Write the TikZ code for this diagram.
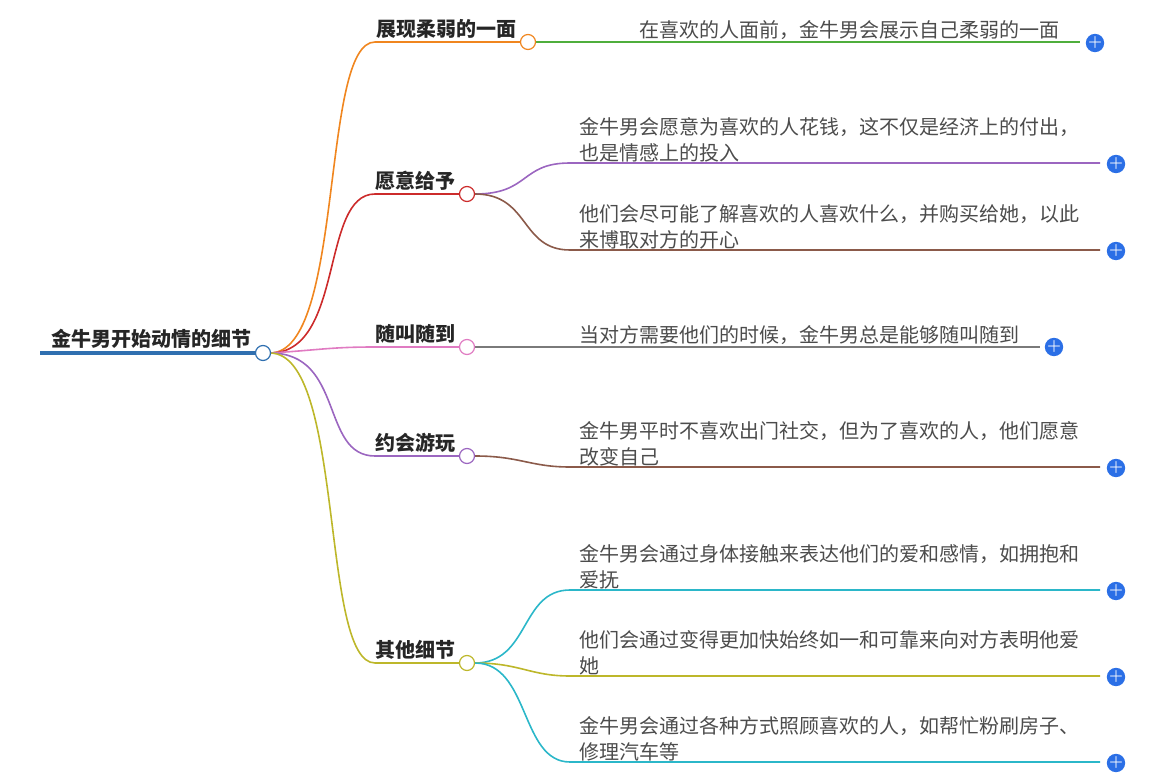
\documentclass[tikz,border=0pt]{standalone}
\usepackage{fontspec}
\usetikzlibrary{positioning, calc}
\newfontfamily\cjk{Noto Sans CJK SC}
\definecolor{cOrange}{HTML}{F0861F}
\definecolor{cGreen}{HTML}{4FAE3C}
\definecolor{cRed}{HTML}{CC2B2B}
\definecolor{cPurple}{HTML}{9B66C0}
\definecolor{cBrown}{HTML}{8B5A4A}
\definecolor{cPink}{HTML}{E07BC2}
\definecolor{cGray}{HTML}{7A7A7A}
\definecolor{cOlive}{HTML}{BDB72A}
\definecolor{cCyan}{HTML}{2BB7C9}
\definecolor{cBlue}{HTML}{2F6FB0}
\definecolor{cPlus}{HTML}{2B6FE6}
\tikzset{
  hub/.style={circle, draw, line width=1.2pt, fill=white, inner sep=0pt, minimum size=15pt},
  topic/.style={font=\cjk\bfseries\fontsize{20}{22}\selectfont, anchor=south east, inner sep=1pt, text=black!85},
  leaf/.style={font=\cjk\fontsize{20}{26}\selectfont, anchor=south west, align=left, inner sep=1pt, text=black!70},
  plus/.style={circle, fill=cPlus, text=white, inner sep=0pt, minimum size=17pt, font=\bfseries\fontsize{16}{16}\selectfont},
  edge/.style={line width=1.6pt},
}
\begin{document}
\begin{tikzpicture}[x=1pt, y=-1pt]
  \useasboundingbox (0,0) rectangle (1176,778);
  % root
  \draw[cBlue, line width=4pt] (40,353) -- (255,353);
  \node[topic] (root) at (253,350) {金牛男开始动情的细节};
  % main branches
  \draw[edge, cOrange] (270,353) .. controls (345,353) and (320,42) .. (375,42) -- (520,42);
  \draw[edge, cRed] (270,353) .. controls (345,353) and (320,194) .. (375,194) -- (459,194);
  \draw[edge, cPink] (270,353) .. controls (320,350) and (330,347) .. (375,347) -- (459,347);
  \draw[edge, cPurple] (270,353) .. controls (345,353) and (320,456) .. (375,456) -- (459,456);
  \draw[edge, cOlive] (270,353) .. controls (345,353) and (320,663) .. (375,663) -- (459,663);
  % leaf connectors
  \draw[edge, cGreen] (536,42) -- (1080,42);
  \draw[edge, cPurple] (475,194) .. controls (530,194) and (520,163) .. (570,163) -- (1100,163);
  \draw[edge, cBrown] (475,194) .. controls (530,194) and (520,250) .. (570,250) -- (1100,250);
  \draw[edge, cGray] (475,347) -- (1040,347);
  \draw[edge, cBrown] (475,456) .. controls (520,456) and (530,467) .. (570,467) -- (1100,467);
  \draw[edge, cCyan] (475,663) .. controls (530,663) and (520,590) .. (570,590) -- (1100,590);
  \draw[edge, cOlive] (475,663) .. controls (520,663) and (530,676) .. (570,676) -- (1100,676);
  \draw[edge, cCyan] (475,663) .. controls (530,663) and (520,762) .. (570,762) -- (1100,762);
  % hubs
  \node[hub, draw=cBlue] (h0) at (263,353) {};
  \node[hub, draw=cOrange] (h1) at (528,42) {};
  \node[hub, draw=cRed] (h2) at (467,194) {};
  \node[hub, draw=cPink] (h3) at (467,347) {};
  \node[hub, draw=cPurple] (h4) at (467,456) {};
  \node[hub, draw=cOlive] (h5) at (467,663) {};
  % topics
  \node[topic] (t1) at (518,40) {展现柔弱的一面};
  \node[topic] (t2) at (457,192) {愿意给予};
  \node[topic] (t3) at (457,345) {随叫随到};
  \node[topic] (t4) at (457,454) {约会游玩};
  \node[topic] (t5) at (457,661) {其他细节};
  % leaves
  \node[leaf] (l1) at (638,41) {在喜欢的人面前，金牛男会展示自己柔弱的一面};
  \node[leaf] (l2) at (578,163) {金牛男会愿意为喜欢的人花钱，这不仅是经济上的付出，\\也是情感上的投入};
  \node[leaf] (l3) at (578,250) {他们会尽可能了解喜欢的人喜欢什么，并购买给她，以此\\来博取对方的开心};
  \node[leaf] (l4) at (578,346) {当对方需要他们的时候，金牛男总是能够随叫随到};
  \node[leaf] (l5) at (578,467) {金牛男平时不喜欢出门社交，但为了喜欢的人，他们愿意\\改变自己};
  \node[leaf] (l6) at (578,590) {金牛男会通过身体接触来表达他们的爱和感情，如拥抱和\\爱抚};
  \node[leaf] (l7) at (578,676) {他们会通过变得更加快始终如一和可靠来向对方表明他爱\\她};
  \node[leaf] (l8) at (578,762) {金牛男会通过各种方式照顾喜欢的人，如帮忙粉刷房子、\\修理汽车等};
  % plus buttons
  \node[plus] (p1) at (1095,43) {+};
  \node[plus] (p2) at (1116,164) {+};
  \node[plus] (p3) at (1116,251) {+};
  \node[plus] (p4) at (1054,347) {+};
  \node[plus] (p5) at (1116,468) {+};
  \node[plus] (p6) at (1116,591) {+};
  \node[plus] (p7) at (1116,677) {+};
  \node[plus] (p8) at (1116,763) {+};
\end{tikzpicture}
\end{document}
